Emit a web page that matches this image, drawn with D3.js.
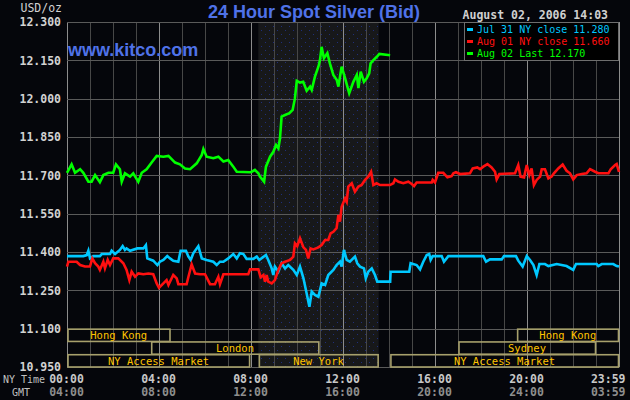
<!DOCTYPE html>
<html>
<head>
<meta charset="utf-8">
<script src="https://cdnjs.cloudflare.com/ajax/libs/d3/7.8.5/d3.min.js"></script>
<style>
body { margin: 0; background: #05060b; }
svg { display: block; }
</style>
</head>
<body>
<div id="chart-area"></div>
<script>

var width = 630,
    height = 400;

var margin = {left: 67, right: 11, top: 22, bottom: 33};

// Price series: [NY hour, price]
var jul31 = [[0.00,11.384],[0.71,11.384],[0.86,11.388],[0.93,11.405],[1.00,11.375],[1.14,11.384],[1.43,11.384],
    [1.51,11.392],[1.87,11.392],[1.94,11.405],[2.09,11.392],[2.30,11.408],[2.42,11.423],[2.52,11.408],[2.59,11.414],
    [2.74,11.405],[3.06,11.414],[3.32,11.414],[3.43,11.427],[3.49,11.375],[3.75,11.366],[3.93,11.349],[4.04,11.362],
    [4.19,11.369],[4.36,11.384],[4.48,11.375],[4.62,11.366],[4.84,11.362],[4.94,11.405],[5.17,11.405],[5.28,11.382],
    [5.38,11.369],[5.49,11.395],[5.71,11.423],[5.86,11.375],[6.07,11.369],[6.36,11.362],[6.51,11.349],[6.65,11.362],
    [6.80,11.362],[7.01,11.375],[7.23,11.392],[7.38,11.375],[7.52,11.395],[7.67,11.392],[7.81,11.373],[8.10,11.373],
    [8.25,11.382],[8.36,11.369],[8.51,11.379],[8.65,11.388],[8.75,11.369],[8.90,11.336],[8.97,11.310],[9.04,11.343],
    [9.19,11.323],[9.33,11.356],[9.48,11.336],[9.62,11.349],[9.84,11.330],[9.99,11.310],[10.13,11.343],[10.28,11.297],
    [10.42,11.238],[10.54,11.186],[10.64,11.245],[10.78,11.232],[10.93,11.225],[11.07,11.277],[11.22,11.271],
    [11.36,11.310],[11.58,11.330],[11.72,11.349],[11.87,11.362],[11.94,11.343],[12.04,11.408],[12.16,11.369],
    [12.30,11.362],[12.52,11.382],[12.62,11.356],[12.74,11.343],[12.91,11.336],[12.99,11.297],[13.10,11.323],
    [13.25,11.336],[13.39,11.310],[13.49,11.284],[14.05,11.284],[14.07,11.323],[14.88,11.323],[14.94,11.356],
    [15.20,11.349],[15.35,11.332],[15.49,11.362],[15.64,11.388],[15.75,11.392],[15.81,11.369],[15.90,11.384],
    [16.29,11.384],[16.39,11.362],[16.58,11.384],[18.10,11.384],[18.22,11.362],[18.39,11.371],[18.90,11.371],
    [19.00,11.384],[19.52,11.384],[19.62,11.366],[19.81,11.343],[19.99,11.384],[20.13,11.369],[20.28,11.349],
    [20.42,11.310],[20.54,11.353],[20.78,11.353],[20.93,11.345],[21.29,11.353],[21.72,11.345],[22.01,11.330],
    [22.13,11.353],[23.03,11.353],[23.10,11.345],[23.25,11.353],[23.75,11.353],[23.90,11.345],[24.00,11.343]];

var aug01 = [[0.00,11.343],[0.06,11.362],[0.42,11.362],[0.57,11.349],[0.78,11.343],[1.00,11.343],[1.10,11.375],
    [1.22,11.356],[1.36,11.343],[1.43,11.330],[1.58,11.362],[1.65,11.336],[1.77,11.369],[1.87,11.349],[2.01,11.375],
    [2.23,11.375],[2.45,11.356],[2.59,11.330],[2.71,11.290],[2.81,11.323],[2.96,11.303],[3.10,11.316],[3.32,11.313],
    [3.54,11.316],[3.75,11.313],[3.90,11.277],[4.00,11.260],[4.19,11.277],[4.33,11.290],[4.41,11.271],[4.62,11.310],
    [4.77,11.297],[4.84,11.274],[5.20,11.274],[5.28,11.303],[5.42,11.352],[5.57,11.316],[5.78,11.313],[6.00,11.313],
    [6.22,11.274],[6.43,11.274],[6.58,11.303],[6.65,11.274],[6.80,11.313],[7.88,11.313],[7.96,11.332],[8.32,11.332],
    [8.42,11.301],[8.54,11.310],[8.61,11.284],[8.68,11.310],[8.75,11.284],[8.90,11.277],[9.04,11.290],[9.19,11.330],
    [9.33,11.356],[9.48,11.362],[9.70,11.369],[9.84,11.382],[9.91,11.434],[10.01,11.423],[10.13,11.454],
    [10.28,11.418],[10.39,11.408],[10.49,11.375],[10.59,11.414],[10.71,11.410],[10.93,11.418],[11.07,11.427],
    [11.22,11.447],[11.36,11.447],[11.46,11.473],[11.58,11.479],[11.72,11.493],[11.80,11.545],[11.87,11.519],
    [11.94,11.577],[12.09,11.610],[12.16,11.597],[12.23,11.656],[12.38,11.669],[12.52,11.636],[12.67,11.656],
    [12.81,11.662],[12.96,11.682],[13.10,11.695],[13.22,11.714],[13.32,11.662],[13.46,11.669],[13.61,11.662],
    [14.04,11.662],[14.19,11.669],[14.26,11.684],[14.41,11.675],[14.62,11.669],[14.84,11.675],[14.99,11.666],
    [15.09,11.658],[15.20,11.672],[15.86,11.672],[15.90,11.682],[16.00,11.672],[16.14,11.710],[16.36,11.710],
    [16.54,11.692],[16.72,11.697],[16.80,11.708],[16.91,11.712],[17.09,11.705],[17.52,11.708],[17.64,11.727],
    [17.84,11.731],[17.96,11.724],[18.10,11.734],[18.28,11.744],[18.46,11.731],[18.61,11.714],[18.68,11.684],
    [18.80,11.705],[19.48,11.708],[19.62,11.740],[19.72,11.695],[19.87,11.692],[19.99,11.740],[20.10,11.701],
    [20.20,11.727],[20.30,11.662],[20.42,11.682],[20.57,11.695],[20.64,11.724],[20.78,11.724],[20.93,11.688],
    [21.07,11.695],[21.17,11.708],[21.36,11.727],[21.55,11.742],[21.72,11.718],[21.87,11.708],[22.01,11.684],
    [22.16,11.701],[22.38,11.705],[22.59,11.708],[22.74,11.724],[22.96,11.714],[23.10,11.708],[23.54,11.708],
    [23.64,11.724],[23.83,11.740],[23.90,11.744],[24.00,11.714]];

var aug02 = [[0.00,11.710],[0.20,11.743],[0.35,11.710],[0.57,11.724],[0.71,11.710],[0.93,11.675],[1.07,11.675],
    [1.22,11.701],[1.43,11.673],[1.58,11.701],[1.80,11.710],[2.01,11.710],[2.13,11.743],[2.30,11.724],[2.38,11.675],
    [2.52,11.708],[2.74,11.695],[2.88,11.708],[3.10,11.675],[3.25,11.710],[3.46,11.724],[3.68,11.750],[3.90,11.776],
    [4.19,11.773],[4.41,11.776],[4.70,11.750],[4.91,11.743],[5.13,11.727],[5.35,11.724],[5.64,11.747],[5.86,11.780],
    [5.93,11.803],[6.07,11.773],[6.36,11.767],[6.58,11.773],[6.80,11.754],[7.01,11.760],[7.23,11.734],[7.38,11.714],
    [7.96,11.712],[8.03,11.714],[8.17,11.721],[8.32,11.708],[8.39,11.695],[8.57,11.675],[8.65,11.734],[8.83,11.773],
    [8.97,11.792],[9.09,11.819],[9.19,11.806],[9.26,11.845],[9.33,11.930],[9.48,11.936],[9.67,11.943],[9.81,11.956],
    [9.91,12.001],[9.99,12.070],[10.13,12.063],[10.27,12.066],[10.42,12.031],[10.57,12.047],[10.64,12.034],
    [10.78,12.086],[10.93,12.125],[11.00,12.151],[11.07,12.203],[11.17,12.158],[11.32,12.178],[11.43,12.138],
    [11.58,12.093],[11.73,12.073],[11.80,12.047],[11.94,12.125],[12.09,12.080],[12.19,12.047],[12.27,12.021],
    [12.45,12.066],[12.60,12.093],[12.67,12.041],[12.77,12.106],[12.91,12.066],[13.03,12.080],[13.14,12.099],
    [13.20,12.138],[13.32,12.151],[13.47,12.164],[13.58,12.175],[14.05,12.170]];

var seriesData = [jul31, aug01, aug02];
var seriesColors = ["#00c8ff", "#ff1010", "#00ff00"];
var legendLabels = ["Jul 31 NY close 11.280", "Aug 01 NY close 11.660", "Aug 02 Last 12.170"];

var priceTicks = [10.95, 11.10, 11.25, 11.40, 11.55, 11.70, 11.85, 12.00, 12.15, 12.30];
var hourTicks = [0, 4, 8, 12, 16, 20, 24];
var nyTimeLabels = ["00:00", "04:00", "08:00", "12:00", "16:00", "20:00", "23:59"];
var gmtLabels = ["04:00", "08:00", "12:00", "16:00", "20:00", "24:00", "03:59"];

// Trading sessions (NY hours), row 0 = top
var sessionNames = ["Hong Kong", "London", "NY Access Market", "New York", "NY Access Market", "Sydney", "Hong Kong"];
var sessionStart = [0, 3.64, 0, 8.32, 14.04, 17.0, 19.55];
var sessionEnd = [4.5, 10.97, 7.96, 13.55, 24, 23.0, 24];
var sessionRow = [0, 1, 2, 2, 2, 1, 0];
var nyShade = [8.32, 13.55];

var svg = d3.select("#chart-area").append("svg")
    .attr("width", width)
    .attr("height", height);

svg.append("rect").attr("width", width).attr("height", height).attr("fill", "#05060b");

var x = d3.scaleLinear().domain([0, 24]).range([margin.left, width - margin.right]);
var y = d3.scaleLinear().domain([10.95, 12.30]).range([height - margin.bottom, margin.top]);

// dotted pattern for the New York session
var pat = svg.append("defs").append("pattern")
    .attr("id", "dots")
    .attr("width", 8).attr("height", 8)
    .attr("patternUnits", "userSpaceOnUse");
pat.append("rect").attr("width", 8).attr("height", 8).attr("fill", "#17181a");
pat.append("rect").attr("x", 1).attr("y", 2).attr("width", 1).attr("height", 1).attr("fill", "#1f2f7a");
pat.append("rect").attr("x", 5).attr("y", 6).attr("width", 1).attr("height", 1).attr("fill", "#1f2f7a");

svg.append("rect")
    .attr("x", x(nyShade[0]))
    .attr("y", y(12.30))
    .attr("width", x(nyShade[1]) - x(nyShade[0]))
    .attr("height", y(10.95) - y(12.30))
    .attr("fill", "url(#dots)");

// Grid
var hours = d3.range(0, 25);
svg.append("g").selectAll("line")
    .data(hours)
    .enter().append("line")
    .attr("x1", function(d) { return x(d); })
    .attr("x2", function(d) { return x(d); })
    .attr("y1", y(12.30))
    .attr("y2", y(10.95))
    .attr("stroke", function(d) { return d % 4 == 0 ? "#8c8c8c" : "#474747"; })
    .attr("stroke-width", 1)
    .attr("shape-rendering", "crispEdges");

var yAxis = d3.axisLeft(y)
    .tickValues(priceTicks)
    .tickSize(-(x(24) - x(0)))
    .tickPadding(6)
    .tickFormat(d3.format(".3f"));

var gy = svg.append("g")
    .attr("transform", "translate(" + x(0) + ",0)")
    .call(yAxis);
gy.select(".domain").remove();
gy.selectAll("line").attr("stroke", "#5a5a5a").attr("shape-rendering", "crispEdges");
gy.selectAll("text")
    .attr("fill", "#d2d2d2")
    .style("font-family", "'DejaVu Sans Mono', monospace")
    .style("font-size", "11.5px")
    .style("font-weight", "bold");

// Session bars
var sessions = sessionNames.map(function(n, i) {
    return {name: n, start: sessionStart[i], end: sessionEnd[i], row: sessionRow[i]};
});
var rowTop = y(11.10), rowH = (y(10.95) - y(11.10)) / 3;

var sess = svg.append("g").selectAll("g")
    .data(sessions)
    .enter().append("g");

sess.append("rect")
    .attr("x", function(d) { return x(d.start) + 1; })
    .attr("y", function(d) { return rowTop + d.row * rowH + 0.5; })
    .attr("width", function(d) { return x(d.end) - x(d.start) - 1.5; })
    .attr("height", rowH - 0.5)
    .attr("fill", "none")
    .attr("stroke", "#a7a06c")
    .attr("stroke-width", 1.6);

sess.append("text")
    .attr("x", function(d) { return (x(d.start) + x(d.end)) / 2; })
    .attr("y", function(d) { return rowTop + d.row * rowH + rowH / 2 + 1; })
    .attr("text-anchor", "middle")
    .attr("dominant-baseline", "middle")
    .attr("fill", "#ffc400")
    .style("font-family", "'DejaVu Sans Mono', monospace")
    .style("font-size", "10.5px")
    .text(function(d) { return d.name; });

// Price lines
var line = d3.line()
    .x(function(d) { return x(d[0]); })
    .y(function(d) { return y(d[1]); });

svg.append("g").selectAll("path")
    .data(seriesData)
    .enter().append("path")
    .attr("d", line)
    .attr("fill", "none")
    .attr("stroke", function(d, i) { return seriesColors[i]; })
    .attr("stroke-width", 2.6)
    .attr("stroke-linejoin", "miter");

// X labels: NY time and GMT rows
var xAxisNY = d3.axisBottom(x).tickValues(hourTicks).tickSize(0).tickPadding(0)
    .tickFormat(function(d, i) { return nyTimeLabels[i]; });
var xAxisGMT = d3.axisBottom(x).tickValues(hourTicks).tickSize(0).tickPadding(0)
    .tickFormat(function(d, i) { return gmtLabels[i]; });

function styleX(g, color) {
    g.select(".domain").remove();
    g.selectAll("text")
        .attr("fill", color)
        .attr("dy", 0)
        .attr("dx", -1)
        .style("font-family", "'DejaVu Sans Mono', monospace")
        .style("font-size", "11.5px")
        .style("font-weight", "bold");
    g.selectAll(".tick:last-of-type text").attr("text-anchor", "end").attr("dx", 6);
}

svg.append("g").attr("transform", "translate(0,383)").call(xAxisNY).call(styleX, "#c8c8c8");
svg.append("g").attr("transform", "translate(0,396)").call(xAxisGMT).call(styleX, "#8e8e8e");

svg.append("text").attr("x", 3).attr("y", 383)
    .attr("fill", "#c0c0c0")
    .style("font-family", "'DejaVu Sans Mono', monospace").style("font-size", "10px")
    .text("NY Time");
svg.append("text").attr("x", 12).attr("y", 396)
    .attr("fill", "#c0c0c0")
    .style("font-family", "'DejaVu Sans Mono', monospace").style("font-size", "10px")
    .text("GMT");

// Titles
svg.append("text").attr("x", 62).attr("y", 12)
    .attr("text-anchor", "end")
    .attr("fill", "#d2d2d2")
    .style("font-family", "'DejaVu Sans Mono', monospace").style("font-size", "11.5px")
    .text("USD/oz");

svg.append("text").attr("x", 314).attr("y", 18)
    .attr("text-anchor", "middle")
    .attr("fill", "#4f72e8")
    .style("font-family", "'Liberation Sans', Arial, sans-serif").style("font-size", "18px")
    .style("font-weight", "bold")
    .text("24 Hour Spot Silver (Bid)");

svg.append("text").attr("x", 68).attr("y", 56)
    .attr("fill", "#4f72e8")
    .style("font-family", "'Liberation Sans', Arial, sans-serif").style("font-size", "18px")
    .style("font-weight", "bold")
    .text("www.kitco.com");

svg.append("text").attr("x", 608).attr("y", 19)
    .attr("text-anchor", "end")
    .attr("fill", "#d0d0d0")
    .style("font-family", "'DejaVu Sans Mono', monospace").style("font-size", "11.5px")
    .style("font-weight", "bold")
    .text("August 02, 2006 14:03");

// Legend
var legend = svg.append("g");
legend.append("rect")
    .attr("x", 464.5).attr("y", 22.5)
    .attr("width", 154).attr("height", 38)
    .attr("fill", "#000")
    .attr("stroke", "#6e6e6e");

var item = legend.selectAll(".item")
    .data(legendLabels)
    .enter().append("g")
    .attr("class", "item")
    .attr("transform", function(d, i) { return "translate(467," + (29.5 + i * 12) + ")"; });

item.append("rect")
    .attr("x", 0).attr("y", -1.5).attr("width", 6).attr("height", 3)
    .attr("fill", function(d, i) { return seriesColors[i]; });

item.append("text")
    .attr("x", 10).attr("y", 0)
    .attr("dominant-baseline", "middle")
    .attr("fill", function(d, i) { return seriesColors[i]; })
    .style("font-family", "'DejaVu Sans Mono', monospace").style("font-size", "10px")
    .text(function(d) { return d; });

</script>
</body>
</html>
